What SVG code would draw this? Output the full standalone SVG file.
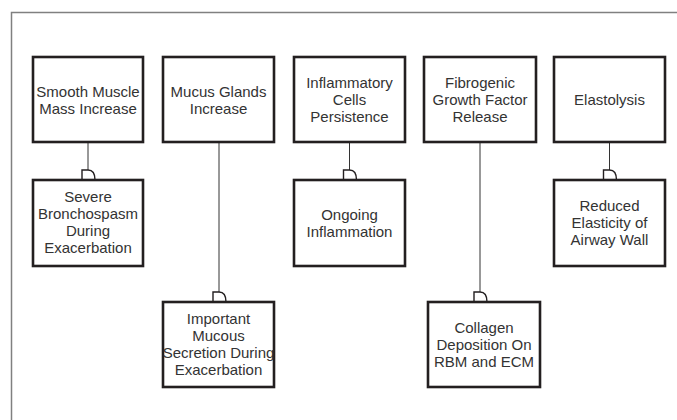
<svg xmlns="http://www.w3.org/2000/svg" width="677" height="420" viewBox="0 0 677 420">
<style>
.frame{fill:none;stroke:#808080;stroke-width:1.5}
.box{fill:#fff;stroke:#231f20;stroke-width:2.6}
.lbl{font-family:"Liberation Sans",Arial,sans-serif;font-size:15px;fill:#333;text-anchor:middle}
.conn{fill:none;stroke:#333;stroke-width:1}
.d{fill:#fff;stroke:#231f20;stroke-width:1.4}
</style>
<rect width="677" height="420" fill="#fff"/>
<path class="frame" d="M11.5,420 V12.5 H677"/>
<g id="connectors">
<line class="conn" x1="88" y1="142" x2="88" y2="170"/>
<path class="d" d="M82,180 V170 H88 C93,170 95,174 95,180"/>
<line class="conn" x1="219" y1="142" x2="219" y2="292"/>
<path class="d" d="M213,302 V292 H219 C224,292 226,296 226,302"/>
<line class="conn" x1="349.5" y1="142" x2="349.5" y2="170"/>
<path class="d" d="M343.5,180 V170 H349.5 C354.5,170 356.5,174 356.5,180"/>
<line class="conn" x1="480" y1="142" x2="480" y2="292"/>
<path class="d" d="M474,302 V292 H480 C485,292 487,296 487,302"/>
<line class="conn" x1="609.5" y1="142" x2="609.5" y2="170"/>
<path class="d" d="M603.5,180 V170 H609.5 C614.5,170 616.5,174 616.5,180"/>
</g>
<g id="n1">
<rect class="box" x="33" y="57" width="110" height="85"/>
<text class="lbl" x="88"><tspan x="88" y="97">Smooth Muscle</tspan><tspan x="88" y="114">Mass Increase</tspan></text>
</g>
<g id="n2">
<rect class="box" x="163" y="57" width="111" height="85"/>
<text class="lbl"><tspan x="218.5" y="97">Mucus Glands</tspan><tspan x="218.5" y="114">Increase</tspan></text>
</g>
<g id="n3">
<rect class="box" x="294" y="57" width="111" height="85"/>
<text class="lbl"><tspan x="349.5" y="88">Inflammatory</tspan><tspan x="349.5" y="105">Cells</tspan><tspan x="349.5" y="122">Persistence</tspan></text>
</g>
<g id="n4">
<rect class="box" x="424" y="57" width="112" height="85"/>
<text class="lbl"><tspan x="480" y="88">Fibrogenic</tspan><tspan x="480" y="105">Growth Factor</tspan><tspan x="480" y="122">Release</tspan></text>
</g>
<g id="n5">
<rect class="box" x="554" y="57" width="111" height="85"/>
<text class="lbl"><tspan x="609.5" y="105">Elastolysis</tspan></text>
</g>
<g id="n6">
<rect class="box" x="33" y="180" width="110" height="86"/>
<text class="lbl"><tspan x="88" y="202">Severe</tspan><tspan x="88" y="219">Bronchospasm</tspan><tspan x="88" y="236">During</tspan><tspan x="88" y="253">Exacerbation</tspan></text>
</g>
<g id="n7">
<rect class="box" x="163" y="302" width="111" height="85"/>
<text class="lbl"><tspan x="218.5" y="324">Important</tspan><tspan x="218.5" y="341">Mucous</tspan><tspan x="218.5" y="358">Secretion During</tspan><tspan x="218.5" y="375">Exacerbation</tspan></text>
</g>
<g id="n8">
<rect class="box" x="294" y="180" width="111" height="86"/>
<text class="lbl"><tspan x="349.5" y="220">Ongoing</tspan><tspan x="349.5" y="237">Inflammation</tspan></text>
</g>
<g id="n9">
<rect class="box" x="428" y="302" width="112" height="85"/>
<text class="lbl"><tspan x="484" y="333">Collagen</tspan><tspan x="484" y="350">Deposition On</tspan><tspan x="484" y="367">RBM and ECM</tspan></text>
</g>
<g id="n10">
<rect class="box" x="554" y="180" width="111" height="86"/>
<text class="lbl"><tspan x="609.5" y="211">Reduced</tspan><tspan x="609.5" y="228">Elasticity of</tspan><tspan x="609.5" y="245">Airway Wall</tspan></text>
</g>
</svg>
